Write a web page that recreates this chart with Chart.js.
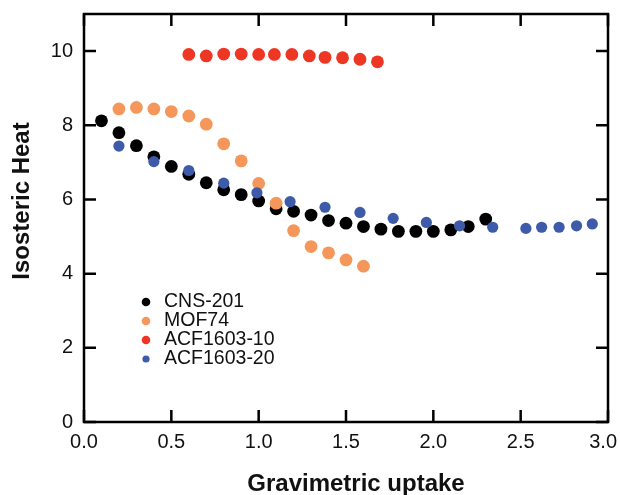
<!DOCTYPE html>
<html>
<head>
<meta charset="utf-8">
<script src="https://cdn.jsdelivr.net/npm/chart.js@4.4.1/dist/chart.umd.min.js"></script>
<style>
  body { margin: 0; background: #fff; }
  #chart { display: block; }
</style>
</head>
<body>
<canvas id="chart" width="620" height="495"></canvas>
<script>
// data
const seriesNames = ['CNS-201', 'MOF74', 'ACF1603-10', 'ACF1603-20'];

const cnsX = [0.1, 0.2, 0.3, 0.4, 0.5, 0.6, 0.7, 0.8, 0.9, 1.0, 1.1, 1.2, 1.3, 1.4, 1.5, 1.6, 1.7, 1.8, 1.9, 2.0, 2.1, 2.2, 2.3];
const cnsY = [8.12, 7.80, 7.45, 7.15, 6.89, 6.68, 6.45, 6.26, 6.13, 5.96, 5.75, 5.68, 5.58, 5.43, 5.36, 5.27, 5.20, 5.14, 5.14, 5.14, 5.18, 5.27, 5.47];

const mofX = [0.2, 0.3, 0.4, 0.5, 0.6, 0.7, 0.8, 0.9, 1.0, 1.1, 1.2, 1.3, 1.4, 1.5, 1.6];
const mofY = [8.44, 8.48, 8.44, 8.37, 8.25, 8.03, 7.50, 7.04, 6.43, 5.90, 5.16, 4.73, 4.56, 4.37, 4.20];

const acf10X = [0.6, 0.7, 0.8, 0.9, 1.0, 1.09, 1.19, 1.29, 1.38, 1.48, 1.58, 1.68];
const acf10Y = [9.91, 9.87, 9.92, 9.92, 9.91, 9.91, 9.91, 9.87, 9.83, 9.82, 9.78, 9.71];

const acf20X = [0.2, 0.4, 0.6, 0.8, 0.99, 1.18, 1.38, 1.58, 1.77, 1.96, 2.15, 2.34, 2.53, 2.62, 2.72, 2.82, 2.91];
const acf20Y = [7.44, 7.02, 6.78, 6.44, 6.18, 5.94, 5.79, 5.65, 5.49, 5.38, 5.29, 5.25, 5.22, 5.25, 5.25, 5.29, 5.34];

const xTicks = [0, 0.5, 1.0, 1.5, 2.0, 2.5, 3.0];
const yTicks = [0, 2, 4, 6, 8, 10];

const xTitle = 'Gravimetric uptake';
const yTitle = 'Isosteric Heat';

const colors = ['#000000', '#f5975b', '#ee3624', '#3d5ba8'];
const radii = [6.4, 6.4, 6.4, 5.6];
const FONT = '"Liberation Sans", Arial, sans-serif';

function toPoints(xs, ys) {
  return xs.map((x, i) => ({ x: x, y: ys[i] }));
}

const seriesData = [
  toPoints(cnsX, cnsY),
  toPoints(mofX, mofY),
  toPoints(acf10X, acf10Y),
  toPoints(acf20X, acf20Y)
];

// frame with inward ticks, drawn under the dots
const framePlugin = {
  id: 'frame',
  beforeDatasetsDraw(chart) {
    const ctx = chart.ctx;
    const a = chart.chartArea;
    const xs = chart.scales.x;
    const ys = chart.scales.y;
    const len = 12;
    ctx.save();
    ctx.strokeStyle = '#000';
    ctx.lineWidth = 2.5;
    ctx.strokeRect(a.left, a.top, a.right - a.left, a.bottom - a.top);
    ctx.beginPath();
    xTicks.forEach(v => {
      const px = xs.getPixelForValue(v);
      ctx.moveTo(px, a.bottom); ctx.lineTo(px, a.bottom - len);
      ctx.moveTo(px, a.top); ctx.lineTo(px, a.top + len);
    });
    yTicks.forEach(v => {
      const py = ys.getPixelForValue(v);
      ctx.moveTo(a.left, py); ctx.lineTo(a.left + len, py);
      ctx.moveTo(a.right, py); ctx.lineTo(a.right - len, py);
    });
    ctx.stroke();
    ctx.restore();
  },
  afterDraw(chart) {
    const ctx = chart.ctx;
    const a = chart.chartArea;
    const xs = chart.scales.x;
    ctx.save();
    ctx.fillStyle = '#111';

    // x tick labels, kept inside the canvas
    ctx.font = '20px ' + FONT;
    ctx.textBaseline = 'top';
    ctx.textAlign = 'center';
    xTicks.forEach(v => {
      const label = v.toFixed(1);
      const w = ctx.measureText(label).width;
      let px = xs.getPixelForValue(v);
      px = Math.min(px, chart.width - 3 - w / 2);
      ctx.fillText(label, px, a.bottom + 10);
    });

    // axis titles
    ctx.font = 'bold 24px ' + FONT;
    ctx.textBaseline = 'middle';
    ctx.fillText(xTitle, 356, 484);
    ctx.save();
    ctx.translate(22, 201);
    ctx.rotate(-Math.PI / 2);
    ctx.fillText(yTitle, 0, 0);
    ctx.restore();

    // legend inside the plot
    ctx.font = '19.5px ' + FONT;
    ctx.textAlign = 'left';
    seriesNames.forEach((name, i) => {
      const y = 302 + i * 19;
      ctx.fillStyle = colors[i];
      ctx.beginPath();
      ctx.arc(146, y, i === 3 ? 3.6 : 4.3, 0, Math.PI * 2);
      ctx.fill();
      ctx.fillStyle = '#111';
      ctx.fillText(name, 164, y);
    });
    ctx.restore();
  }
};

new Chart(document.getElementById('chart'), {
  type: 'scatter',
  data: {
    datasets: seriesNames.map((name, i) => ({
      label: name,
      data: seriesData[i],
      backgroundColor: colors[i],
      borderWidth: 0,
      pointRadius: radii[i],
      pointHoverRadius: radii[i],
      order: 4 - i
    }))
  },
  options: {
    responsive: false,
    animation: false,
    layout: { padding: { top: 14, right: 12, left: 0, bottom: 0 } },
    plugins: {
      legend: { display: false },
      tooltip: { enabled: false }
    },
    scales: {
      x: {
        type: 'linear',
        min: 0,
        max: 3,
        grid: { display: false, drawTicks: false },
        border: { display: false },
        ticks: { display: false },
        afterFit(scale) {
          scale.height = 73;
          scale.paddingLeft = 0;
          scale.paddingRight = 0;
        }
      },
      y: {
        min: 0,
        max: 11,
        grid: { display: false, drawTicks: false },
        border: { display: false },
        afterBuildTicks(scale) {
          scale.ticks = yTicks.map(v => ({ value: v }));
        },
        ticks: {
          color: '#111',
          padding: 11,
          font: { family: FONT, size: 20 }
        },
        afterFit(scale) {
          scale.width = 84;
          scale.paddingTop = 0;
          scale.paddingBottom = 0;
        }
      }
    }
  },
  plugins: [framePlugin]
});
</script>
</body>
</html>
